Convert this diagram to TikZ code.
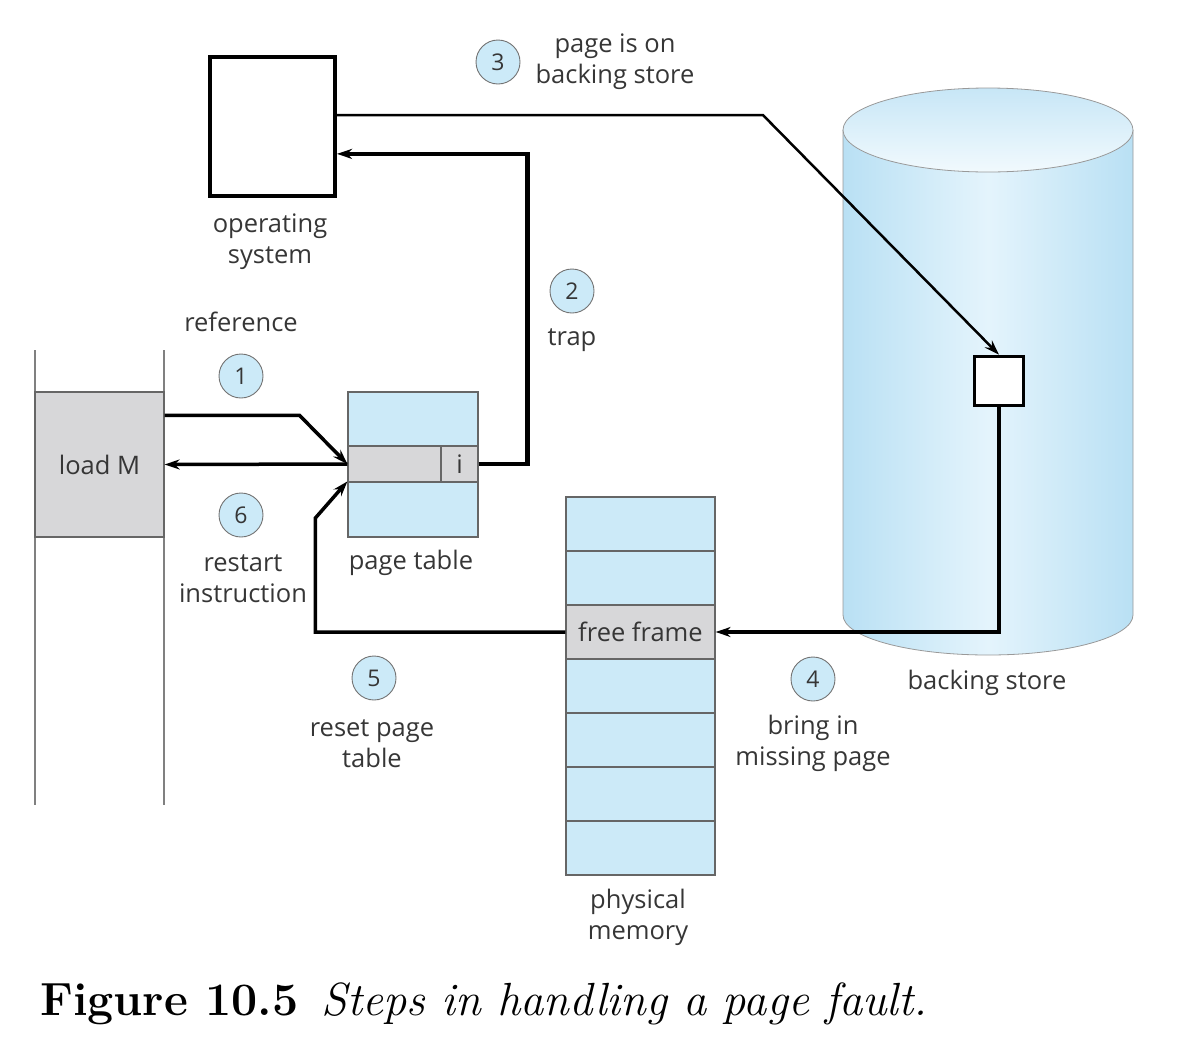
\documentclass[tikz,border=0pt]{standalone}
\usepackage{fontspec}
\newfontfamily\lblfont{Open Sans}
\usetikzlibrary{arrows.meta}
\definecolor{pgblue}{HTML}{CCEAF8}
\definecolor{pggray}{HTML}{D7D7D9}
\definecolor{cylblue}{HTML}{B9E0F4}
\definecolor{cylpale}{HTML}{E4F4FC}
\definecolor{txtgray}{HTML}{363636}
\tikzset{
  lbl/.style={align=center, text=txtgray, font=\lblfont\fontsize{25.5}{31}\selectfont},
  stepno/.style={circle, draw=gray!90!black, line width=0.9pt, fill=pgblue, minimum size=44pt, inner sep=0pt,
    text=txtgray, font=\lblfont\fontsize{23}{26}\selectfont},
  cell/.style={draw=gray!80!black, line width=1.2pt, inner sep=0pt},
  >={Stealth[length=15pt,width=10pt]}
}
\begin{document}
\begin{tikzpicture}[x=1pt, y=1pt]
\useasboundingbox (0,0) rectangle (1184,-1042);

% backing store cylinder
\shade[left color=cylblue, right color=cylblue, middle color=cylpale]
  (843,-130) -- (843,-615) arc (180:360:145 and 40) -- (1133,-130) -- cycle;
\draw[gray!80, line width=0.8pt] (843,-130) -- (843,-615) arc (180:360:145 and 40) -- (1133,-130);
\shade[top color=cylblue!80, bottom color=cylpale!50!white, draw=gray!80, line width=0.8pt]
  (988,-130) ellipse (145 and 42);

% operating system
\node[draw, line width=4pt, minimum width=125pt, minimum height=139pt] (os) at (272.5,-126.5) {};
\node[lbl] (oslbl) at (270,-242) {operating\\system};

% process
\draw[gray, line width=1.5pt] (35,-350) -- (35,-805);
\draw[gray, line width=1.5pt] (164,-350) -- (164,-805);
\node[cell, fill=pggray, minimum width=129pt, minimum height=145pt, lbl] (ldm) at (99.5,-464.5) {load M};

% page table
\node[cell, fill=pgblue, minimum width=130pt, minimum height=54pt] (pttop) at (413,-419) {};
\node[cell, fill=pggray, minimum width=93pt, minimum height=36pt] (ptrow) at (394.5,-464) {};
\node[cell, fill=pggray, minimum width=37pt, minimum height=36pt, lbl] (ptbit) at (459.5,-464) {i};
\node[cell, fill=pgblue, minimum width=130pt, minimum height=55pt] (ptbot) at (413,-509.5) {};
\node[lbl] (ptlbl) at (411,-563) {page table};

% physical memory
\foreach \i in {0,1,3,4,5,6}
  \node[cell, fill=pgblue, minimum width=149pt, minimum height=54pt] (fr\i) at (640.5,-524-54*\i) {};
\node[cell, fill=pggray, minimum width=149pt, minimum height=54pt, lbl] (ff) at (640.5,-632) {free frame};
\node[lbl] (pmlbl) at (638,-917) {physical\\memory};

% page on disk
\node[draw, fill=white, line width=3.5pt, minimum width=49pt, minimum height=49pt] (blk) at (999,-381) {};
\node[lbl] (bslbl) at (987,-683) {backing store};

% steps
\node[lbl] (s1lbl) at (241,-322) {reference};
\node[stepno] (s1) at (241,-376) {1};
\node[stepno] (s2) at (572,-291) {2};
\node[lbl] (s2lbl) at (572,-340) {trap};
\node[stepno] (s3) at (498,-62) {3};
\node[lbl] (s3lbl) at (615,-62) {page is on\\backing store};
\node[stepno] (s4) at (813,-679) {4};
\node[lbl] (s4lbl) at (813,-743) {bring in\\missing page};
\node[stepno] (s5) at (374,-678) {5};
\node[lbl] (s5lbl) at (372,-744) {reset page\\table};
\node[stepno] (s6) at (241,-515) {6};
\node[lbl] (s6lbl) at (243,-579) {restart\\instruction};

\begin{scope}[->, line width=3.5pt]
\draw (ldm.37.5) -- ++(135,0) -- (ptrow.west);
\draw[line width=4.5pt] (ptbit.east) -- ++(49,0) |- (os.-23.8);
\draw[line width=2.5pt] (os.10) -- ++(426,0) -- (blk.north);
\draw[line width=4.5pt] (blk.south) |- (ff.east);
\draw (ff.west) -- ++(-250,0) -- ++(0,114) -- (ptbot.north west);
\draw (ptrow.west) -- (ldm.east);
\end{scope}

% caption
\node[anchor=base west, inner sep=0pt, font=\fontsize{46.5}{52}\selectfont] (cap) at (40,-1015)
  {\textbf{Figure 10.5}\enspace\textit{Steps in handling a page fault.}};
\end{tikzpicture}
\end{document}
